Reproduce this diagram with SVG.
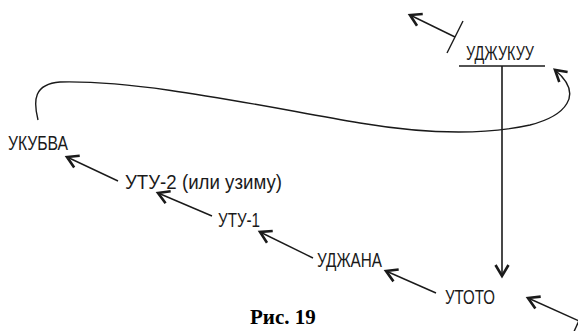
<svg xmlns="http://www.w3.org/2000/svg" width="578" height="331" viewBox="0 0 578 331">
<style>
.lbl{font-family:"Liberation Sans",Arial,sans-serif;font-size:21px;fill:#1a1a1a}
.cap{font-family:"Liberation Serif","Times New Roman",serif;font-size:21px;font-weight:bold;fill:#000}
.ln{fill:none;stroke:#1a1a1a;stroke-width:1.6}
.thin{fill:none;stroke:#1a1a1a;stroke-width:1.4}
.arr{marker-end:url(#ah)}
</style>
<defs>
<marker id="ah" markerUnits="userSpaceOnUse" markerWidth="30" markerHeight="30" viewBox="-15 -15 30 30" refX="0" refY="0" orient="auto" overflow="visible">
<path d="M-11,-6.5 L0,0 L-11,6.5" fill="none" stroke="#1a1a1a" stroke-width="2.6" stroke-linejoin="miter"/>
</marker>
</defs>
<g id="n-udzhukuu"><text class="lbl" x="466" y="60" textLength="68" lengthAdjust="spacingAndGlyphs">УДЖУКУУ</text><line class="ln" x1="459" y1="66" x2="545" y2="66"/></g>
<g id="n-ukubva"><text class="lbl" x="8" y="150" textLength="60" lengthAdjust="spacingAndGlyphs">УКУБВА</text></g>
<g id="n-utu2"><text class="lbl" x="125" y="189" textLength="157" lengthAdjust="spacingAndGlyphs">УТУ-2 (или узиму)</text></g>
<g id="n-utu1"><text class="lbl" x="218" y="227" textLength="42" lengthAdjust="spacingAndGlyphs">УТУ-1</text></g>
<g id="n-udzhana"><text class="lbl" x="317" y="267" textLength="65" lengthAdjust="spacingAndGlyphs">УДЖАНА</text></g>
<g id="n-utoto"><text class="lbl" x="445" y="304" textLength="50" lengthAdjust="spacingAndGlyphs">УТОТО</text></g>
<g id="caption"><text class="cap" x="250" y="324">Рис. 19</text></g>
<g id="connectors">
<line class="ln arr" x1="502" y1="66" x2="502" y2="276"/>
<line class="thin arr" x1="118" y1="181" x2="67" y2="157"/>
<line class="thin arr" x1="212" y1="216" x2="158" y2="193"/>
<line class="thin arr" x1="313" y1="258" x2="260" y2="232"/>
<line class="thin arr" x1="436" y1="293" x2="386" y2="271"/>
<line class="thin arr" x1="579" y1="321" x2="528" y2="298"/>
<line class="thin" x1="586" y1="305" x2="572" y2="336"/>
<line class="thin arr" x1="455" y1="37" x2="410" y2="15"/>
<line class="thin" x1="463" y1="21" x2="447" y2="53"/>
<path class="thin arr" d="M38,120 C33,100 34,84 60,82 C140,80 250,104 360,123 C420,133 480,136 530,125 C565,116 585,95 555,70"/>
</g>
</svg>
